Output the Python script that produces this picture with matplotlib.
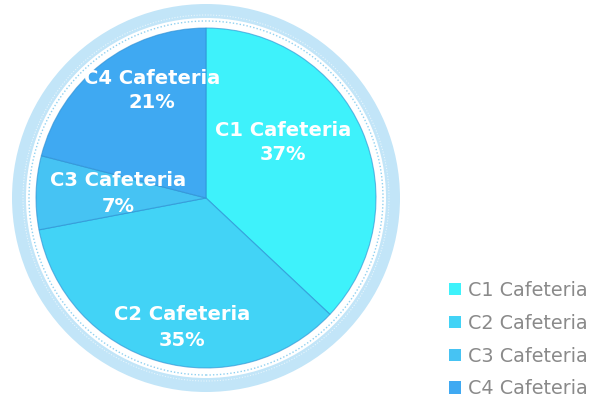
import matplotlib
matplotlib.use('Agg')
import matplotlib.pyplot as plt
from matplotlib.patches import Wedge, Circle

# data
labels = ['C1 Cafeteria', 'C2 Cafeteria', 'C3 Cafeteria', 'C4 Cafeteria']
shares = [37, 35, 7, 21]
colors = ['#3ef2fb', '#42d3f6', '#46c3f3', '#3fa9f2']

# layout (pixel coords, y up)
W, H = 597, 398
cx, cy, R = 206, 200, 170
label_pos = [(283, 268), (182, 83), (118, 217), (152, 320)]

fig = plt.figure(figsize=(W / 100, H / 100), dpi=100)
ax = fig.add_axes([0, 0, 1, 1])

# decorative ring around the pie
ax.add_patch(Wedge((cx, cy), 194, 0, 360, width=14, facecolor='#c2e5f8', edgecolor='none'))
ax.add_patch(Circle((cx, cy), 183, fill=False, edgecolor='#e8f6fd', lw=0.8, ls=(0, (1, 1.5))))
ax.add_patch(Circle((cx, cy), 177, fill=False, edgecolor='#8fd0f0', lw=1.0, ls=(0, (1, 1.5))))

wedges, _ = ax.pie(shares, colors=colors, startangle=90, counterclock=False,
                   center=(cx, cy), radius=R,
                   wedgeprops=dict(edgecolor=(0.16, 0.55, 0.82, 0.6), linewidth=0.8))

for (x, y), lab, s in zip(label_pos, labels, shares):
    ax.text(x, y, lab, ha='center', va='center', color='white',
            fontsize=14, fontweight='bold')
    ax.text(x, y - 25, f'{s}%', ha='center', va='center', color='white',
            fontsize=14, fontweight='bold')

leg = ax.legend(wedges, labels, loc='upper left', bbox_to_anchor=(449, 117),
                bbox_transform=ax.transData, frameon=False, fontsize=13.8,
                handlelength=0.62, handleheight=0.62, handletextpad=0.35,
                labelspacing=0.72, borderpad=0, borderaxespad=0)
for t in leg.get_texts():
    t.set_color('#8a8a8a')
for h in leg.legend_handles:
    h.set_edgecolor('none')

ax.set_xlim(0, W)
ax.set_ylim(0, H)
ax.set_aspect('equal')
ax.axis('off')

fig.savefig('out.png', dpi=100)
